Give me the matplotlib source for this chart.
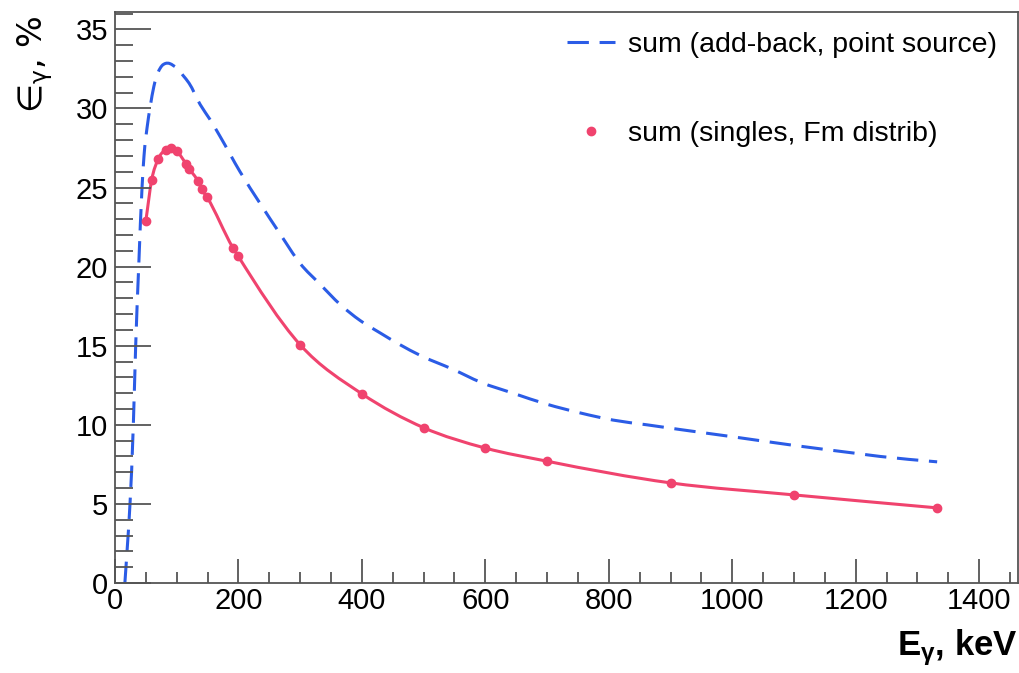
import matplotlib
matplotlib.use("Agg")
import matplotlib.pyplot as plt
from matplotlib.ticker import MultipleLocator
from matplotlib.path import Path
from matplotlib.patches import PathPatch
from matplotlib.lines import Line2D

plt.rcParams['font.family'] = ['Liberation Sans', 'DejaVu Sans']
plt.rcParams['mathtext.default'] = 'regular'

# add-back, point source (dashed blue)
e_addback = [16, 20, 24.3, 29.7, 33.5, 38.4, 43.8, 47, 52, 57, 63, 70, 76, 82, 88, 95,
             102, 110, 120, 138, 154, 170, 202.6, 235, 267, 300, 332, 365, 397, 430,
             462, 494, 548, 592, 645, 700, 754, 807, 862, 916, 1000, 1100, 1200, 1240, 1332]
eff_addback = [0.0, 2.3, 5.0, 10.0, 15.0, 20.0, 25.0, 27.0, 28.8, 30.1, 31.4, 32.3, 32.7,
               32.85, 32.85, 32.7, 32.5, 32.1, 31.6, 30.25, 29.3, 28.25, 26.0, 24.0, 22.1,
               20.2, 18.9, 17.6, 16.6, 15.8, 15.06, 14.4, 13.5, 12.7, 12.0, 11.3, 10.75,
               10.3, 10.0, 9.7, 9.25, 8.7, 8.2, 8.0, 7.66]

# singles, Fm distrib (red points + smooth line)
e_singles = [50, 59.5, 70, 82, 90, 100, 115, 120, 134.5, 140.5, 149, 191, 199,
             300, 400, 500, 600, 700, 900, 1100, 1332]
eff_singles = [22.9, 25.5, 26.8, 27.4, 27.5, 27.3, 26.5, 26.2, 25.4, 24.9, 24.4, 21.2, 20.7,
               15.06, 11.96, 9.82, 8.53, 7.7, 6.33, 5.57, 4.75]

label_addback = "sum (add-back, point source)"
label_singles = "sum (singles, Fm distrib)"

blue = '#2b5ce6'
red = '#f0436e'
axcol = '#555555'


def smooth_path(x, y):
    """Cubic Hermite (Bezier) path through the data points, drawn by matplotlib."""
    n = len(x)
    m = []
    for i in range(n):
        if i == 0:
            m.append((y[1] - y[0]) / (x[1] - x[0]))
        elif i == n - 1:
            m.append((y[-1] - y[-2]) / (x[-1] - x[-2]))
        else:
            h0 = x[i] - x[i - 1]
            h1 = x[i + 1] - x[i]
            d0 = (y[i] - y[i - 1]) / h0
            d1 = (y[i + 1] - y[i]) / h1
            m.append((d1 * h0 + d0 * h1) / (h0 + h1))
    verts = [(x[0], y[0])]
    codes = [Path.MOVETO]
    for i in range(n - 1):
        h = x[i + 1] - x[i]
        verts += [(x[i] + h / 3, y[i] + m[i] * h / 3),
                  (x[i + 1] - h / 3, y[i + 1] - m[i + 1] * h / 3),
                  (x[i + 1], y[i + 1])]
        codes += [Path.CURVE4] * 3
    return Path(verts, codes)


fig = plt.figure(figsize=(10.2, 6.73), dpi=100)
ax = fig.add_axes([115/1020, 90/673, 903/1020, 571/673])

blue_dash = (0, (7, 3.5))
ax.add_patch(PathPatch(smooth_path(e_addback, eff_addback), fill=False, edgecolor=blue,
                       lw=2.2, linestyle=blue_dash, capstyle='butt', clip_on=True))
ax.add_patch(PathPatch(smooth_path(e_singles, eff_singles), fill=False, edgecolor=red,
                       lw=2.2))
ax.plot(e_singles, eff_singles, color=red, lw=0, marker='o', ms=6)

ax.set_xlim(0, 1463)
ax.set_ylim(0, 36.1)
ax.xaxis.set_major_locator(MultipleLocator(200))
ax.xaxis.set_minor_locator(MultipleLocator(50))
ax.yaxis.set_major_locator(MultipleLocator(5))
ax.yaxis.set_minor_locator(MultipleLocator(1))

ax.tick_params(axis='x', which='major', direction='in', length=17, width=1.3, color=axcol,
               labelsize=21, pad=3)
ax.tick_params(axis='x', which='minor', direction='in', length=8, width=1.3, color=axcol)
ax.tick_params(axis='y', which='major', direction='in', length=26, width=1.3, color=axcol,
               labelsize=21, pad=5)
ax.tick_params(axis='y', which='minor', direction='in', length=13, width=1.3, color=axcol)
for s in ax.spines.values():
    s.set_color(axcol)
    s.set_linewidth(1.3)

fig.text(1018/1020, 1 - 648/673, r"E$_{\gamma}$, keV", ha='right', va='center',
         fontsize=25, fontweight='bold')
fig.text(35/1020, 1 - 16/673, "∈$_{\\gamma}$, %", ha='center', va='top', rotation=90,
         fontsize=24, family=['DejaVu Sans'])

handles = [Line2D([], [], color=blue, lw=2.2, linestyle=blue_dash),
           Line2D([], [], color=red, lw=0, marker='o', ms=6)]
leg = ax.legend(handles, [label_addback, label_singles], loc='upper left',
                bbox_to_anchor=(452/903, 0.965), frameon=False,
                fontsize=20.5, handlelength=1.7, handletextpad=0.45, labelspacing=2.21,
                borderaxespad=0, borderpad=0)

fig.savefig("out.png", dpi=100)
